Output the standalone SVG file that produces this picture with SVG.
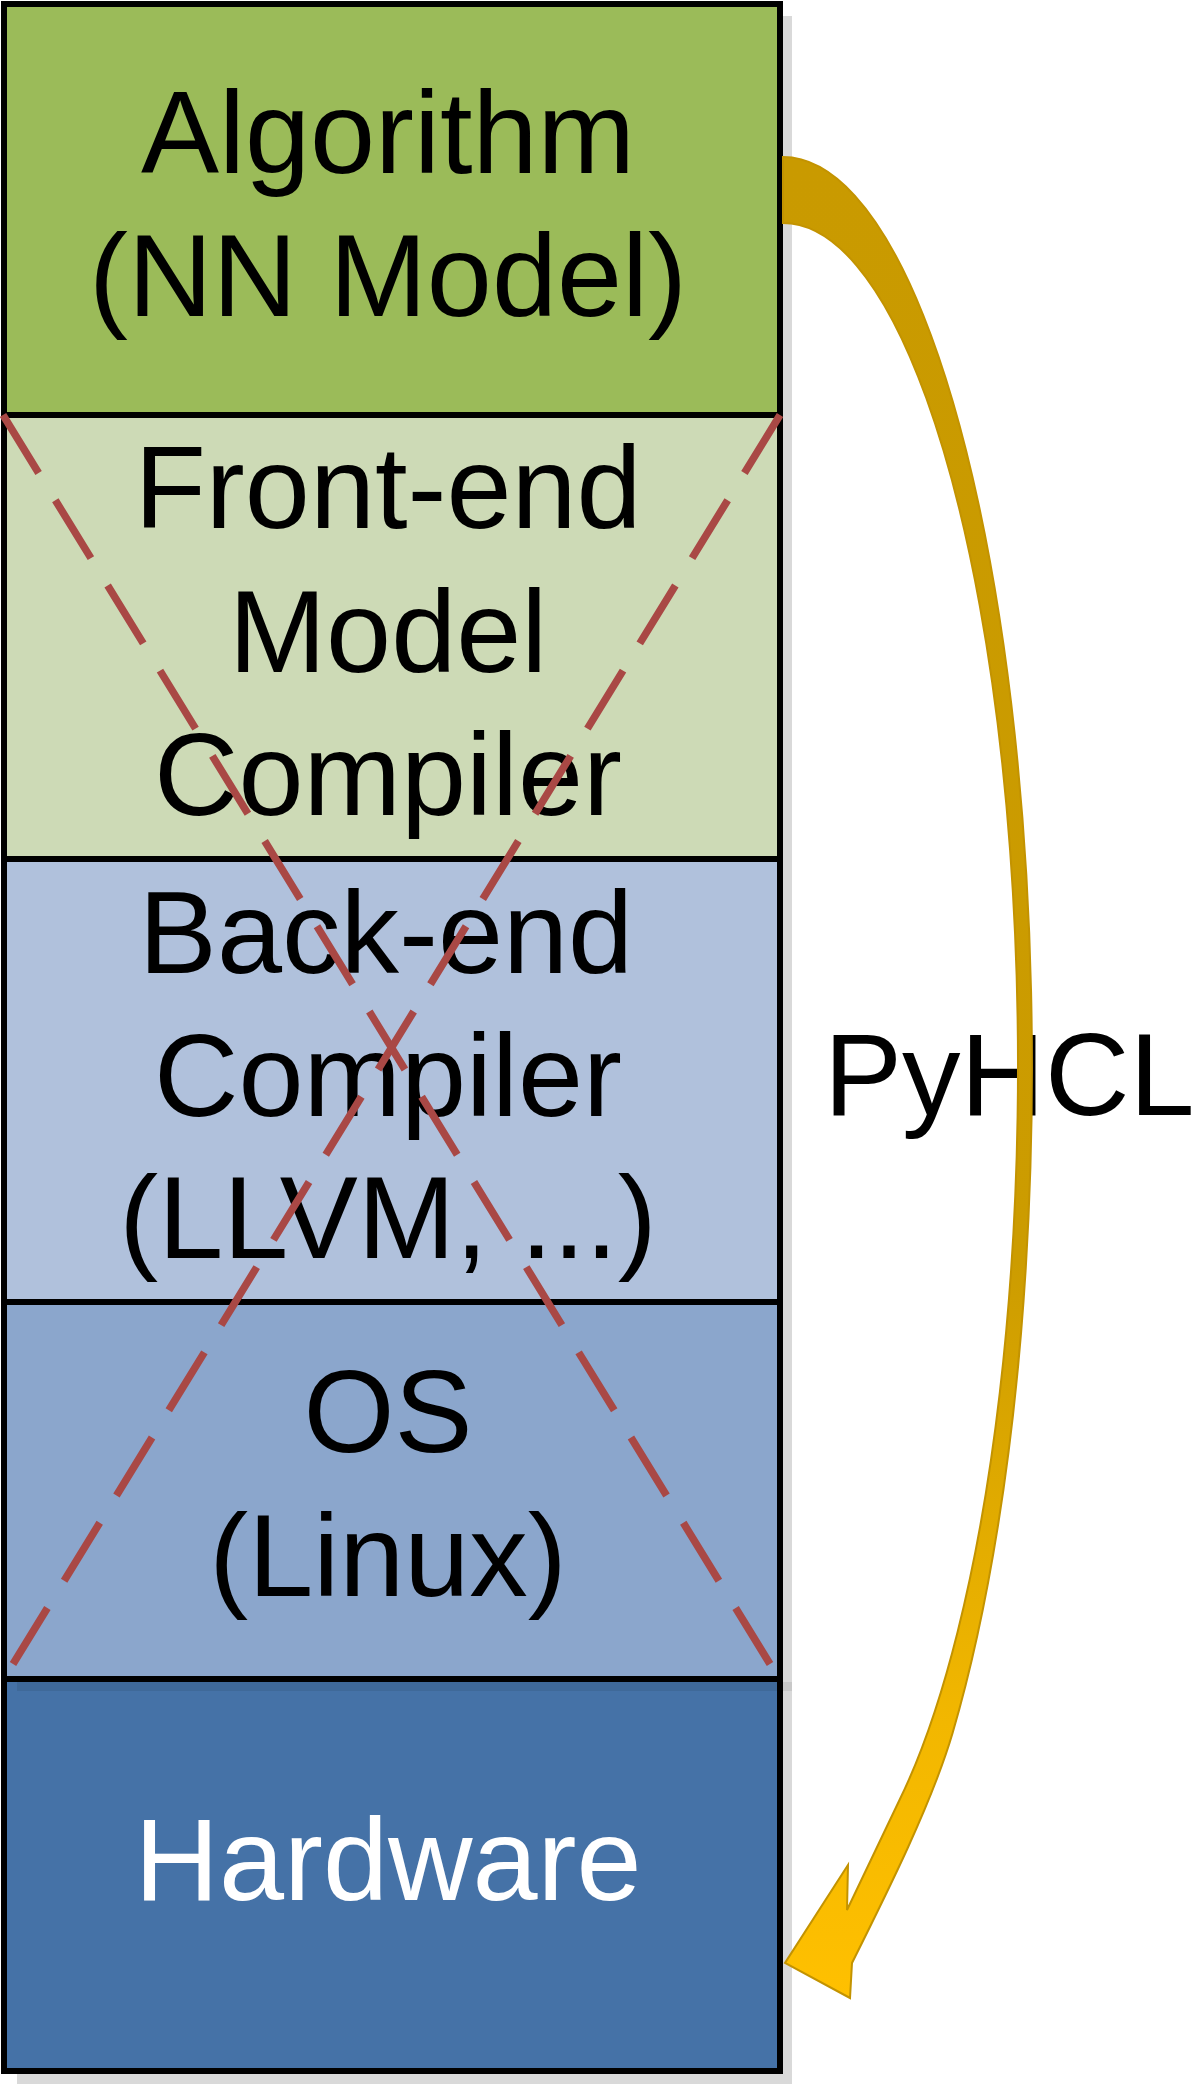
<svg xmlns="http://www.w3.org/2000/svg" width="1192" height="2084" viewBox="0 0 1192 2084">
<style>
.layer{stroke:#000;stroke-width:6}
.t{font-family:"Liberation Sans",Arial,sans-serif;font-size:117px;text-anchor:middle;fill:#000}
.w{fill:#fff}
.x{stroke:#A94845;stroke-width:7.5;stroke-dasharray:68 32;fill:none}
</style>
<defs>
<linearGradient id="gold" gradientUnits="userSpaceOnUse" x1="0" y1="157" x2="0" y2="1998">
<stop offset="0" stop-color="#C99A00"/>
<stop offset="0.6" stop-color="#CC9C00"/>
<stop offset="0.85" stop-color="#F2B700"/>
<stop offset="1" stop-color="#FFC000"/>
</linearGradient>
</defs>
<rect width="1192" height="2084" fill="#fff"/>
<g id="shadow">
<rect x="17" y="16" width="775" height="2068" fill="#D9D9D9"/>
</g>
<g id="hardware">
<rect class="layer" x="4" y="1679" width="776" height="392" fill="#4572A7"/>
<rect x="17" y="1682" width="775" height="9" fill="#000" opacity="0.08"/>
<text class="t w" x="388" y="1900">Hardware</text>
</g>
<g id="algorithm">
<rect class="layer" x="4" y="4" width="776" height="411" fill="#9BBB59"/>
<text class="t" x="388" y="173">Algorithm</text>
<text class="t" x="388" y="316">(NN Model)</text>
</g>
<g id="frontend">
<rect class="layer" x="4" y="415" width="776" height="444" fill="#CDDAB6"/>
<text class="t" x="388" y="528">Front-end</text>
<text class="t" x="388" y="672">Model</text>
<text class="t" x="388" y="815">Compiler</text>
</g>
<g id="backend">
<rect class="layer" x="4" y="859" width="776" height="443" fill="#B0C1DC"/>
<text class="t" x="386" y="973">Back-end</text>
<text class="t" x="388" y="1116">Compiler</text>
<text class="t" x="388" y="1258">(LLVM, ...)</text>
</g>
<g id="os">
<rect class="layer" x="4" y="1302" width="776" height="377" fill="#8BA6CC"/>
<text class="t" x="388" y="1452">OS</text>
<text class="t" x="388" y="1596">(Linux)</text>
</g>
<g id="cross">
<line class="x" x1="3" y1="415" x2="770" y2="1664"/>
<line class="x" x1="780" y1="415" x2="13" y2="1664"/>
</g>
<g id="label">
<text class="t" x="824" y="1115" style="text-anchor:start">PyHCL</text>
</g>
<g id="connectors">
<path fill="url(#gold)" stroke="#C39300" stroke-width="2" stroke-linejoin="miter" d="M783,157 A249,910 0 0 1 952.6,1733 C932,1803 887,1893 852,1963 L850,1998 L785,1963 L848,1865 L847,1910 L899.5,1800 A235,844 0 0 0 783,223 Z"/>
</g>
</svg>
